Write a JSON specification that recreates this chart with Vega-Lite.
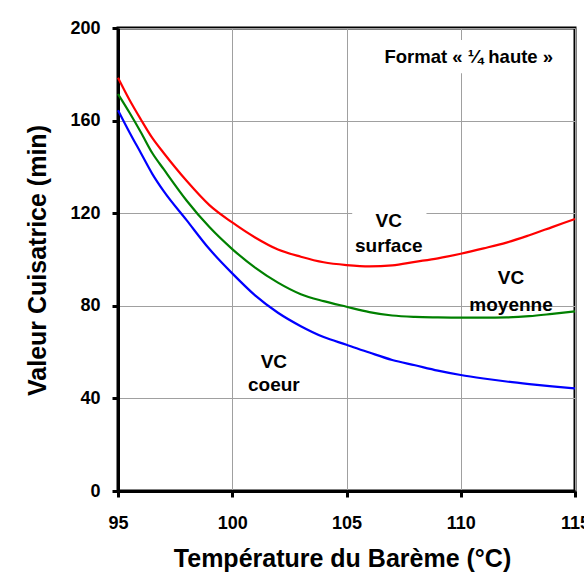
{
  "$schema": "https://vega.github.io/schema/vega-lite/v6.json",
  "width": 457,
  "height": 463,
  "autosize": {"type": "none"},
  "padding": {"left": 118, "top": 28, "right": 9, "bottom": 97},
  "background": "white",
  "config": {
    "font": "Liberation Sans",
    "view": {"stroke": "black", "strokeWidth": 3}
  },
  "datasets": {
    "curves": [
      {"t": 95, "v": 178.5, "s": "surface"}, {"t": 95.5, "v": 169, "s": "surface"}, {"t": 96, "v": 160.5, "s": "surface"}, {"t": 96.5, "v": 152.5, "s": "surface"}, {"t": 97, "v": 146, "s": "surface"}, {"t": 98, "v": 134, "s": "surface"}, {"t": 99, "v": 123.5, "s": "surface"}, {"t": 100, "v": 116, "s": "surface"}, {"t": 101, "v": 109.5, "s": "surface"}, {"t": 102, "v": 104.3, "s": "surface"}, {"t": 103, "v": 101.2, "s": "surface"}, {"t": 104, "v": 98.8, "s": "surface"}, {"t": 105, "v": 97.6, "s": "surface"}, {"t": 106, "v": 97, "s": "surface"}, {"t": 107, "v": 97.5, "s": "surface"}, {"t": 108, "v": 99, "s": "surface"}, {"t": 109, "v": 100.5, "s": "surface"}, {"t": 110, "v": 102.5, "s": "surface"}, {"t": 111, "v": 104.8, "s": "surface"}, {"t": 112, "v": 107.3, "s": "surface"}, {"t": 113, "v": 110.5, "s": "surface"}, {"t": 114, "v": 114, "s": "surface"}, {"t": 115, "v": 117.5, "s": "surface"},
      {"t": 95, "v": 171.5, "s": "moyenne"}, {"t": 95.5, "v": 163.5, "s": "moyenne"}, {"t": 96, "v": 155, "s": "moyenne"}, {"t": 96.5, "v": 146, "s": "moyenne"}, {"t": 97, "v": 139, "s": "moyenne"}, {"t": 98, "v": 125.5, "s": "moyenne"}, {"t": 99, "v": 114, "s": "moyenne"}, {"t": 100, "v": 104.5, "s": "moyenne"}, {"t": 101, "v": 96.5, "s": "moyenne"}, {"t": 102, "v": 90, "s": "moyenne"}, {"t": 103, "v": 85, "s": "moyenne"}, {"t": 104, "v": 82, "s": "moyenne"}, {"t": 105, "v": 79.6, "s": "moyenne"}, {"t": 106, "v": 77.3, "s": "moyenne"}, {"t": 107, "v": 75.8, "s": "moyenne"}, {"t": 108, "v": 75.2, "s": "moyenne"}, {"t": 109, "v": 75, "s": "moyenne"}, {"t": 110, "v": 74.9, "s": "moyenne"}, {"t": 111, "v": 74.9, "s": "moyenne"}, {"t": 112, "v": 75, "s": "moyenne"}, {"t": 113, "v": 75.5, "s": "moyenne"}, {"t": 114, "v": 76.5, "s": "moyenne"}, {"t": 115, "v": 77.6, "s": "moyenne"},
      {"t": 95, "v": 164.5, "s": "coeur"}, {"t": 95.5, "v": 155, "s": "coeur"}, {"t": 96, "v": 146, "s": "coeur"}, {"t": 96.5, "v": 137, "s": "coeur"}, {"t": 97, "v": 129.5, "s": "coeur"}, {"t": 98, "v": 117, "s": "coeur"}, {"t": 99, "v": 104.5, "s": "coeur"}, {"t": 100, "v": 94, "s": "coeur"}, {"t": 101, "v": 84.5, "s": "coeur"}, {"t": 102, "v": 77, "s": "coeur"}, {"t": 103, "v": 71.2, "s": "coeur"}, {"t": 104, "v": 66.5, "s": "coeur"}, {"t": 105, "v": 63.2, "s": "coeur"}, {"t": 106, "v": 59.8, "s": "coeur"}, {"t": 107, "v": 56.6, "s": "coeur"}, {"t": 108, "v": 54.3, "s": "coeur"}, {"t": 109, "v": 52, "s": "coeur"}, {"t": 110, "v": 50.1, "s": "coeur"}, {"t": 111, "v": 48.6, "s": "coeur"}, {"t": 112, "v": 47.3, "s": "coeur"}, {"t": 113, "v": 46.2, "s": "coeur"}, {"t": 114, "v": 45.2, "s": "coeur"}, {"t": 115, "v": 44.3, "s": "coeur"}
    ]
  },
  "layer": [
    {
      "data": {"values": [{}]},
      "mark": {"type": "rect", "fill": "white", "stroke": null},
      "encoding": {
        "x": {"datum": 105.25, "type": "quantitative", "scale": {"domain": [95, 115], "nice": false, "zero": false}},
        "x2": {"datum": 108.5},
        "y": {"datum": 108, "type": "quantitative", "scale": {"domain": [0, 200], "nice": false}},
        "y2": {"datum": 127}
      }
    },
    {
      "data": {"values": [{}]},
      "mark": {"type": "rect", "fill": "white", "stroke": null},
      "encoding": {
        "x": {"datum": 106.3, "type": "quantitative"},
        "x2": {"datum": 114.5},
        "y": {"datum": 180.5, "type": "quantitative"},
        "y2": {"datum": 194.8}
      }
    },
    {
      "data": {"name": "curves"},
      "mark": {"type": "line", "strokeWidth": 2.2, "interpolate": "monotone"},
      "encoding": {
        "x": {
          "field": "t", "type": "quantitative",
          "scale": {"domain": [95, 115], "nice": false, "zero": false},
          "axis": {
            "values": [95, 100, 105, 110, 115],
            "title": "Température du Barème (°C)",
            "titleFont": "Liberation Sans", "titleFontSize": 25, "titleFontWeight": "bold", "titleColor": "black",
            "titleBaseline": "alphabetic", "titleY": 75, "titleX": 224,
            "labelFont": "Liberation Sans", "labelFontSize": 18, "labelFontWeight": "bold", "labelColor": "black",
            "labelPadding": 17, "labelFlush": false, "labelOverlap": false,
            "domainColor": "black", "domainWidth": 3,
            "tickColor": "black", "tickWidth": 3, "tickSize": 6,
            "grid": true, "gridColor": "#a0a0a0", "gridWidth": 1
          }
        },
        "y": {
          "field": "v", "type": "quantitative",
          "scale": {"domain": [0, 200], "nice": false},
          "axis": {
            "values": [0, 40, 80, 120, 160, 200],
            "title": "Valeur Cuisatrice (min)",
            "titleFont": "Liberation Sans", "titleFontSize": 25, "titleFontWeight": "bold", "titleColor": "black",
            "titleAngle": -90, "titleBaseline": "alphabetic", "titleX": -73, "titleY": 232, "titleAlign": "center",
            "labelFont": "Liberation Sans", "labelFontSize": 18, "labelFontWeight": "bold", "labelColor": "black",
            "labelPadding": 12, "labelFlush": false, "labelOverlap": false,
            "domainColor": "black", "domainWidth": 3,
            "tickColor": "black", "tickWidth": 3, "tickSize": 6,
            "grid": true, "gridColor": "#a0a0a0", "gridWidth": 1
          }
        },
        "color": {
          "field": "s", "type": "nominal",
          "scale": {"domain": ["surface", "moyenne", "coeur"], "range": ["#ff0000", "#008000", "#0000ff"]},
          "legend": null
        }
      }
    },
    {
      "data": {"values": [{}]},
      "mark": {"type": "text", "text": ["VC", "surface"], "lineHeight": 25, "font": "Liberation Sans", "fontSize": 19, "fontWeight": "bold", "color": "black", "align": "center", "baseline": "middle"},
      "encoding": {
        "x": {"datum": 106.85, "type": "quantitative"},
        "y": {"datum": 116.8, "type": "quantitative"}
      }
    },
    {
      "data": {"values": [{}]},
      "mark": {"type": "text", "text": ["VC", "moyenne"], "lineHeight": 27, "font": "Liberation Sans", "fontSize": 19, "fontWeight": "bold", "color": "black", "align": "center", "baseline": "middle"},
      "encoding": {
        "x": {"datum": 112.2, "type": "quantitative"},
        "y": {"datum": 91.8, "type": "quantitative"}
      }
    },
    {
      "data": {"values": [{}]},
      "mark": {"type": "text", "text": ["VC", "coeur"], "lineHeight": 23, "font": "Liberation Sans", "fontSize": 19, "fontWeight": "bold", "color": "black", "align": "center", "baseline": "middle"},
      "encoding": {
        "x": {"datum": 101.82, "type": "quantitative"},
        "y": {"datum": 55.9, "type": "quantitative"}
      }
    },
    {
      "data": {"values": [{}]},
      "mark": {"type": "text", "text": "Format « ¼ haute »", "font": "Liberation Sans", "fontSize": 18.5, "fontWeight": "bold", "color": "black", "align": "center", "baseline": "middle"},
      "encoding": {
        "x": {"datum": 110.35, "type": "quantitative"},
        "y": {"datum": 187.4, "type": "quantitative"}
      }
    }
  ]
}
